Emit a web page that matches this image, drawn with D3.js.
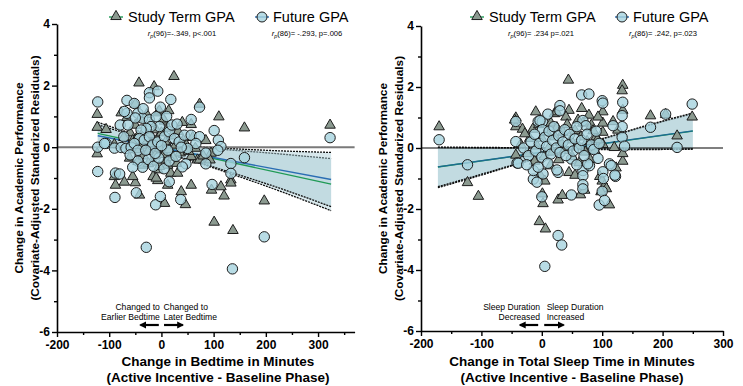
<!DOCTYPE html>
<html>
<head>
<meta charset="utf-8">
<script src="https://cdn.jsdelivr.net/npm/d3@7"></script>
<style>
  body { margin: 0; background: #fff; }
  text { font-family: Arial, "Liberation Sans", sans-serif; }
</style>
</head>
<body>
<svg id="chart" width="743" height="386"></svg>
<script>
// ticks
const yMajor = [-6, -4, -2, 0, 2, 4]
const yMinor = [-5, -3, -1, 1, 3]
const xMajor = [-200, -100, 0, 100, 200, 300]
const xMinorBed = [-150, -50, 50, 150, 250, 350]
const xMinorTst = [-150, -50, 50, 150, 250]

// bedtime panel: [change in minutes, change in performance]
const studyBed = [
  [-123,1.05],[-123,0.63],[-123,-0.23],[-106,0.56],[-90,0.07],[-90,-0.97],[-88,-1.25],[-71,-1.15],[-77,1.1],
  [-50,1.38],[-43,2.07],[-14,1.95],[24,2.28],[14,1.17],[40,0.79],[73,1.38],[110,0.97],[159,0.61],[85,0.2],
  [57,0.72],[69,-0.43],[79,-0.37],[95,-0.21],[96,-1.41],[114,-1.3],[120,-1.6],[133,-1.08],[133,-1.18],
  [101,-2.45],[137,-2.72],[197,-1.76],[323,0.7],[57,-1.25],[46,-1.88],[38,-1.46],[6,-1.84],[12,-1.25],
  [-42,-1.57],[-50,-1.17],[-55,-0.97],[-61,-0.37],[-7,-0.75],[-16,-0.97],[-7,-1.1],[9,-0.43],[18,-0.86],
  [31,-0.86],[29,-0.54],[-7,1.1],[-4,1.16],[6,0.83],[57,-0.32],[73,-0.43],[80,-0.3],[93,-0.43],[-45,-0.48],
  [-36,-0.6],[-15,-0.5],[12,-0.6],[-4,-0.64],[-10,-1.02],
  [-60,0.45],[-55,0.2],[-50,0.7],[-48,-0.1],[-45,0.35],[-40,0.9],[-38,0.05],[-35,-0.3],[-32,0.55],[-30,0.2],
  [-28,1.05],[-25,-0.15],[-22,0.4],[-20,0.75],[-18,0.1],[-12,-0.3],[-10,0.55],[-8,0.25],[-3,-0.05],[0,0.45],
  [3,0.9],[5,-0.25],[8,0.15],[12,0.6],[15,-0.1],[20,0.35],[22,-0.35],[27,0.05],[32,0.5],[36,-0.2],[42,0.2],
  [48,0.05],[52,-0.15],[60,0.3],[65,-0.05],[-66,0.95],[-72,0.3],[-25,-0.55]
]
const futureBed = [
  [-122,1.47],[-122,0.0],[-122,-0.79],[-88,-0.84],[-80,-0.87],[-89,-1.63],[-106,0.12],[-90,-0.03],[-66,1.52],
  [-66,1.1],[-52,1.42],[-29,-3.25],[-23,1.77],[-7,1.82],[-23,1.6],[18,1.55],[73,1.3],[57,0.9],[101,0.54],
  [109,0.23],[114,0.02],[133,-0.53],[133,-0.85],[159,-0.34],[97,-1.21],[197,-2.91],[136,-3.95],[323,0.31],
  [-11,-1.87],[-2,-1.6],[37,-1.7],[15,-1.12],[-48,-1.48],[85,-0.54],[47,-0.54],[40,-0.64],[-71,1.16],
  [-79,0.72],[-64,0.72],[-45,1.1],[-36,0.94],[-23,0.89],[-10,0.99],[-4,0.67],[-20,0.67],[-29,0.61],[-39,0.56],
  [-42,0.28],[-33,0.23],[-23,0.34],[-17,0.07],[-7,0.17],[6,0.34],[15,0.5],[20,0.72],[25,0.28],[12,-0.1],
  [34,0.17],[44,0.39],[57,0.39],[73,0.34],[66,0.12],[50,-0.04],[38,0.0],[-72,0.34],[-77,-0.01],[-68,-0.04],
  [-58,0.0],[-52,0.12],[-45,-0.1],[-109,0.12],[85,-0.19],[108,-0.1],[-45,-0.45],[-36,-0.65],[-25,-0.4],
  [-15,-0.62],[-5,-0.35],[5,-0.7],[15,-0.45],[28,-0.3],[-55,-0.65],[-60,-0.25],[-30,-0.1],[-12,-0.2],[0,0.05],
  [-2,1.3],[-35,1.25],[10,1.0],[30,0.75],[-50,0.95]
]

// total sleep time panel
const studyTst = [
  [-170,0.68],[-123,-1.15],[-105,-1.6],[-43,0.97],[-43,0.68],[-32,0.6],[-43,-0.25],[-10,1.17],[21,1.11],
  [44,2.21],[45,1.22],[66,1.28],[101,1.17],[134,2.04],[133,1.86],[134,1.22],[118,0.85],[180,1.04],[205,1.08],
  [224,0.38],[249,1.0],[-4,-2.43],[6,-2.67],[112,-1.88],[2,-1.84],[1,-1.52],[27,-1.72],[34,-1.57],[64,-1.55],
  [71,-1.4],[45,-0.82],[55,-0.91],[96,-0.95],[100,-1.1],[104,-1.25],[107,-1.35],[98,-1.45],[123,-0.67],
  [134,-0.45],[134,-0.2],[120,0.0],[101,0.1],[101,0.5],[101,0.8],[82,0.73],[90,0.35],[24,1.17],[40,1.0],
  [78,1.06],[93,1.0],[126,0.57],[-3,-0.9],[5,-1.1],[-45,0.9],
  [-35,0.1],[-25,-0.2],[-20,0.3],[-15,0.6],[-12,-0.45],[-8,0.05],[-5,0.75],[0,0.3],[4,-0.3],[8,0.5],[12,0.0],
  [15,0.8],[18,-0.15],[22,0.35],[25,0.65],[28,-0.4],[32,0.15],[35,0.5],[38,-0.1],[42,0.75],[48,0.25],
  [50,-0.3],[55,0.55],[58,0.05],[62,-0.5],[65,0.35],[68,0.8],[72,-0.15],[75,0.2],[80,-0.4],[85,0.55],
  [88,-0.1],[92,0.25],[-28,0.45],[14,-0.6],[60,0.9]
]
const futureTst = [
  [-170,0.27],[-123,-0.55],[-43,0.21],[-41,-0.49],[-43,0.87],[-6,0.87],[1,0.87],[10,1.11],[30,1.39],[30,1.22],
  [66,1.74],[78,1.77],[100,1.55],[101,1.47],[134,1.5],[133,1.06],[133,0.7],[133,0.35],[137,0.06],[180,0.68],
  [205,1.11],[224,0.02],[249,1.44],[5,-3.88],[27,-2.87],[33,-3.18],[0,-1.6],[49,-1.54],[95,-1.87],[101,-0.78],
  [122,-0.93],[-14,-1.02],[-8,-1.12],[2,-0.85],[27,-0.8],[-14,-0.74],[-6,-0.63],[68,-0.74],[68,-0.91],
  [68,-1.2],[68,-1.34],[100,-1.42],[104,-1.72],[79,-0.58],[93,-0.34],[112,-0.52],[115,-0.58],[49,-0.36],
  [102,-1.0],[121,-0.89],[76,-0.52],[-39,-0.5],[-3,0.9],[1,0.6],[68,0.9],[73,0.73],[118,0.73],[25,-0.72],
  [-30,0.0],[-22,-0.25],[-18,0.2],[-12,0.45],[-10,-0.1],[-4,0.15],[0,-0.3],[5,0.35],[8,0.05],[12,0.55],
  [15,-0.2],[18,0.25],[20,0.7],[24,0.0],[28,0.4],[30,-0.15],[35,0.2],[38,0.6],[40,-0.25],[44,0.1],[46,0.45],
  [52,-0.1],[55,0.3],[58,0.7],[62,0.0],[66,0.25],[70,-0.25],[75,0.45],[82,0.1],[86,-0.05],[90,0.55],
  [95,0.15],[-25,-0.55],[10,-0.5],[58,-0.55]
]

// fitted lines and 95% bands
const fitXBed = [-122, 325]
const fitStudyBed = [0.45, -1.2]
const fitFutureBed = [0.37, -1.05]
const bandXBed = [-122, -60, 0, 60, 120, 200, 325]
const bandStudyBedHi = [0.81, 0.47, 0.20, 0.03, -0.07, -0.18, -0.37]
const bandStudyBedLo = [0.09, -0.01, -0.18, -0.45, -0.79, -1.26, -2.06]
const bandFutureBedHi = [0.73, 0.42, 0.18, 0.04, -0.03, -0.10, -0.17]
const bandFutureBedLo = [0.01, -0.06, -0.20, -0.44, -0.75, -1.18, -1.93]

const fitXTst = [-172, 250]
const fitStudyTst = [-0.625, 0.555]
const fitFutureTst = [-0.62, 0.56]
const bandXTst = [-172, -100, -40, 0, 45, 100, 170, 250]
const bandStudyTstHi = [0.02, 0.0, 0.0, -0.01, 0.03, 0.29, 0.70, 1.12]
const bandStudyTstLo = [-1.30, -0.89, -0.53, -0.31, -0.09, -0.05, -0.05, -0.04]
const bandFutureTstHi = [0.03, 0.02, 0.01, 0.0, 0.04, 0.31, 0.72, 1.15]
const bandFutureTstLo = [-1.27, -0.86, -0.51, -0.29, -0.07, -0.03, -0.04, -0.03]

const seriesNames = ['Study Term GPA', 'Future GPA']
const statsBed = [['(96)=-.349, p<.001'], ['(86)= -.293, p=.006']]
const statsTst = [['(96)= .234 p=.021'], ['(86)= .242, p=.023']]

const triFill = '#8b9a90'
const circFill = '#a6d3de'
const greenLine = '#1f9a55'
const blueLine = '#2a6db3'

const svg = d3.select('#chart')

const defs = svg.append('defs')
defs.append('marker')
  .attr('id', 'arrow')
  .attr('viewBox', '0 0 10 10')
  .attr('refX', 8).attr('refY', 5)
  .attr('markerWidth', 3.2).attr('markerHeight', 3.2)
  .attr('orient', 'auto')
  .append('path').attr('d', 'M0,0 L10,5 L0,10 z').attr('fill', '#000')

function drawPanel(cfg) {
  const g = svg.append('g')
  const x = d3.scaleLinear().domain(cfg.xDomain).range([cfg.left, cfg.right])
  const y = d3.scaleLinear().domain([-6, 4]).range([cfg.bottom, cfg.top])

  // bands
  cfg.bands.forEach(b => {
    const pts = b.xs.map((v, i) => ({ x: v, hi: b.hi[i], lo: b.lo[i] }))
    g.append('path').datum(pts)
      .attr('d', d3.area().x(d => x(d.x)).y0(d => y(d.lo)).y1(d => y(d.hi)).curve(d3.curveMonotoneX))
      .attr('fill', '#a9cdd4').attr('fill-opacity', 0.45)
    ;['hi', 'lo'].forEach(k => {
      g.append('path').datum(pts)
        .attr('d', d3.line().x(d => x(d.x)).y(d => y(d[k])).curve(d3.curveMonotoneX))
        .attr('fill', 'none').attr('stroke', '#111').attr('stroke-width', 1.3)
        .attr('stroke-dasharray', '2,1')
    })
  })

  // zero reference
  g.append('line')
    .attr('x1', x(cfg.xDomain[0])).attr('x2', x(cfg.xDomain[1]))
    .attr('y1', y(0)).attr('y2', y(0))
    .attr('stroke', cfg.zeroColor).attr('stroke-width', cfg.zeroWidth)

  // fit lines
  cfg.fits.forEach(f => {
    g.append('line')
      .attr('x1', x(f.xs[0])).attr('x2', x(f.xs[1]))
      .attr('y1', y(f.ys[0])).attr('y2', y(f.ys[1]))
      .attr('stroke', f.color).attr('stroke-width', 1.4)
  })

  // points
  g.selectAll('.tri').data(cfg.study).enter().append('path')
    .attr('class', 'tri')
    .attr('d', d3.symbol(d3.symbolTriangle).size(48))
    .attr('transform', d => 'translate(' + x(d[0]) + ',' + (y(d[1]) - 0.5) + ')')
    .attr('fill', triFill).attr('stroke', '#1c1c1c').attr('stroke-width', 1)

  g.selectAll('.circ').data(cfg.future).enter().append('circle')
    .attr('class', 'circ')
    .attr('cx', d => x(d[0])).attr('cy', d => y(d[1])).attr('r', 5.2)
    .attr('fill', circFill).attr('fill-opacity', 0.8)
    .attr('stroke', '#1c1c1c').attr('stroke-width', 1)

  // axes
  const ax = g.append('g').attr('transform', 'translate(0,' + cfg.bottom + ')')
  ax.call(d3.axisBottom(x).tickValues(xMajor).tickSize(5).tickSizeOuter(0).tickPadding(3).tickFormat(d3.format('d')))
  ax.append('g').call(d3.axisBottom(x).tickValues(cfg.xMinor).tickSize(3).tickSizeOuter(0).tickFormat(''))
    .select('.domain').remove()

  const ay = g.append('g').attr('transform', 'translate(' + cfg.left + ',0)')
  ay.call(d3.axisLeft(y).tickValues(yMajor).tickSize(5).tickSizeOuter(0).tickPadding(2).tickFormat(d3.format('d')))
  ay.append('g').call(d3.axisLeft(y).tickValues(yMinor).tickSize(3).tickSizeOuter(0).tickFormat(''))
    .select('.domain').remove()

  g.selectAll('.domain').attr('stroke', '#000').attr('stroke-width', 1.6)
  g.selectAll('.tick line').attr('stroke', '#000').attr('stroke-width', 1.4)
  g.selectAll('.tick text')
    .style('font-family', 'Arial, "Liberation Sans", sans-serif')
    .style('font-size', '12px').style('font-weight', 'bold').style('fill', '#000')
    .text(function () { return d3.select(this).text().replace('−', '-') })

  // axis titles
  const tx = cfg.xTitleX
  g.append('text').attr('x', tx).attr('y', 366).attr('text-anchor', 'middle')
    .attr('font-size', 13.5).attr('font-weight', 'bold').text(cfg.xTitle[0])
  g.append('text').attr('x', tx).attr('y', 382).attr('text-anchor', 'middle')
    .attr('font-size', 13.5).attr('font-weight', 'bold').text(cfg.xTitle[1])

  const cy = (cfg.top + cfg.bottom) / 2
  ;[['Change in Academic Performance', cfg.left - 34], ['(Covariate-Adjusted Standarized Residuals)', cfg.left - 18]]
    .forEach(([t, px]) => {
      g.append('text').attr('transform', 'translate(' + px + ',' + cy + ') rotate(-90)')
        .attr('text-anchor', 'middle').attr('font-size', 11.8).attr('font-weight', 'bold').text(t)
    })

  // direction annotations
  const ann = cfg.ann
  g.append('text').attr('x', x(ann.leftX)).attr('y', 310).attr('text-anchor', 'end')
    .attr('font-size', 8.6).text(ann.left[0])
  g.append('text').attr('x', x(ann.leftX)).attr('y', 320).attr('text-anchor', 'end')
    .attr('font-size', 8.6).text(ann.left[1])
  g.append('text').attr('x', x(ann.rightX)).attr('y', 310).attr('text-anchor', 'start')
    .attr('font-size', 8.6).text(ann.right[0])
  g.append('text').attr('x', x(ann.rightX)).attr('y', 320).attr('text-anchor', 'start')
    .attr('font-size', 8.6).text(ann.right[1])
  ann.arrows.forEach(a => {
    g.append('line')
      .attr('x1', x(a[0])).attr('x2', x(a[1])).attr('y1', 325).attr('y2', 325)
      .attr('stroke', '#000').attr('stroke-width', 2.2).attr('marker-end', 'url(#arrow)')
  })

  // legend
  const lg = cfg.legend
  const ly = 17
  g.append('line').attr('x1', lg.triX - 7).attr('x2', lg.triX + 7).attr('y1', ly).attr('y2', ly)
    .attr('stroke', greenLine).attr('stroke-width', 1.4)
  g.append('path').attr('d', d3.symbol(d3.symbolTriangle).size(48))
    .attr('transform', 'translate(' + lg.triX + ',' + (ly - 0.5) + ')')
    .attr('fill', triFill).attr('stroke', '#1c1c1c')
  g.append('text').attr('x', lg.triX + 12).attr('y', 22).attr('font-size', 14.5).text(seriesNames[0])

  g.append('line').attr('x1', lg.circX - 7).attr('x2', lg.circX + 7).attr('y1', ly).attr('y2', ly)
    .attr('stroke', blueLine).attr('stroke-width', 1.4)
  g.append('circle').attr('cx', lg.circX).attr('cy', ly).attr('r', 5)
    .attr('fill', circFill).attr('fill-opacity', 0.8).attr('stroke', '#1c1c1c')
  g.append('text').attr('x', lg.circX + 11).attr('y', 22).attr('font-size', 14.5).text(seriesNames[1])

  cfg.stats.forEach((s, i) => {
    const t = g.append('text').attr('x', lg.statX[i]).attr('y', 36)
      .attr('text-anchor', 'middle').attr('font-size', 7.6)
    t.append('tspan').attr('font-style', 'italic').text('r')
    t.append('tspan').attr('font-style', 'italic').attr('font-size', 5.5).attr('dy', 1.5).text('p')
    t.append('tspan').attr('dy', -1.5).text(s[0])
  })
}

drawPanel({
  left: 57, right: 354.6, top: 24, bottom: 332,
  xDomain: [-200, 370], xMinor: xMinorBed,
  study: studyBed, future: futureBed,
  bands: [
    { xs: bandXBed, hi: bandStudyBedHi, lo: bandStudyBedLo },
    { xs: bandXBed, hi: bandFutureBedHi, lo: bandFutureBedLo }
  ],
  fits: [
    { xs: fitXBed, ys: fitStudyBed, color: greenLine },
    { xs: fitXBed, ys: fitFutureBed, color: blueLine }
  ],
  zeroColor: '#7a7a7a', zeroWidth: 2,
  xTitle: ['Change in Bedtime in Minutes', '(Active Incentive - Baseline Phase)'], xTitleX: 218,
  ann: {
    left: ['Changed to', 'Earlier Bedtime'], right: ['Changed to', 'Later Bedtime'],
    leftX: -3, rightX: 4, arrows: [[-5, -40], [5, 41]]
  },
  legend: { triX: 116, circX: 262, statX: [182, 307] },
  stats: statsBed
})

drawPanel({
  left: 421, right: 723, top: 26, bottom: 331,
  xDomain: [-200, 300], xMinor: xMinorTst,
  study: studyTst, future: futureTst,
  bands: [
    { xs: bandXTst, hi: bandStudyTstHi, lo: bandStudyTstLo },
    { xs: bandXTst, hi: bandFutureTstHi, lo: bandFutureTstLo }
  ],
  fits: [
    { xs: fitXTst, ys: fitStudyTst, color: greenLine },
    { xs: fitXTst, ys: fitFutureTst, color: '#1d6a93' }
  ],
  zeroColor: '#000', zeroWidth: 1.2,
  xTitle: ['Change in Total Sleep Time in Minutes', '(Active Incentive - Baseline Phase)'], xTitleX: 572,
  ann: {
    left: ['Sleep Duration', 'Decreased'], right: ['Sleep Duration', 'Increased'],
    leftX: -3, rightX: 8, arrows: [[-6, -36], [4, 36]]
  },
  legend: { triX: 477, circX: 622, statX: [541, 663] },
  stats: statsTst
})
</script>
</body>
</html>
